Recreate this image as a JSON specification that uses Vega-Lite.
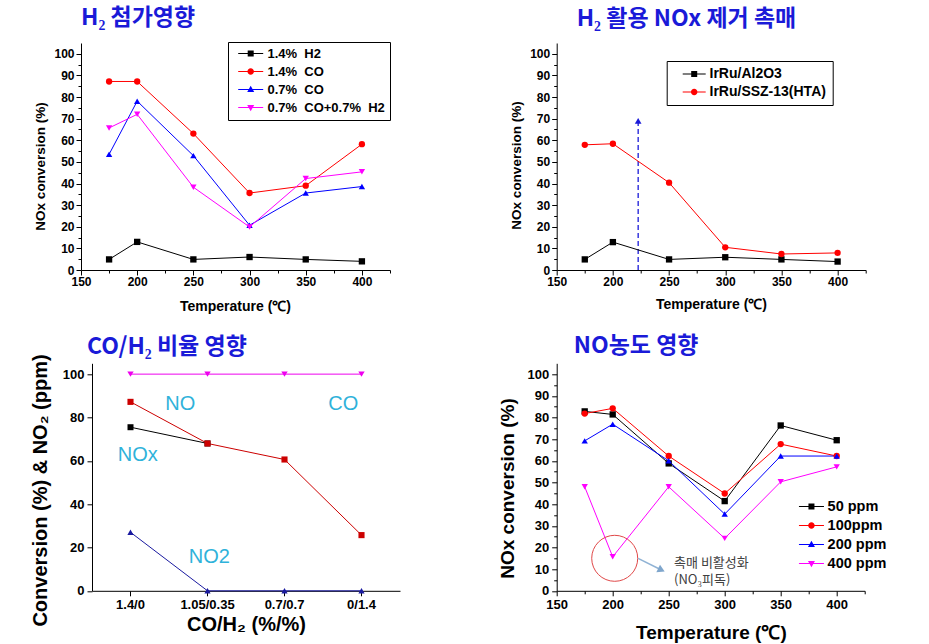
{
  "$schema": "https://vega.github.io/schema/vega-lite/v6.json",
  "autosize": {"type": "none"},
  "padding": {"left": 81, "top": 43, "right": 848, "bottom": 601},
  "background": "white",
  "bounds": "flush",
  "spacing": 475.7,
  "resolve": {"scale": {"x": "independent", "y": "independent", "color": "independent", "shape": "independent", "size": "independent"}, "legend": {"color": "independent", "shape": "independent"}},
  "config": {
    "view": {"stroke": null},
    "font": "Liberation Sans",
    "point": {"opacity": 1},
    "line": {"strokeWidth": 1},
    "axis": {"domainColor": "black", "tickColor": "black", "labelColor": "black", "titleColor": "black", "labelFont": "Liberation Sans", "labelFontWeight": "bold", "titleFont": "Liberation Sans", "titleFontWeight": "bold", "grid": false, "domainWidth": 1, "tickWidth": 1, "labelOverlap": false, "labelFlush": false},
    "title": {"font": "Noto Sans CJK KR", "fontWeight": "bold", "color": "#1a1ad8", "fontSize": 23, "anchor": "start", "frame": "group", "baseline": "alphabetic"},
    "legend": {"labelFont": "Liberation Sans", "labelFontWeight": "bold", "labelColor": "black", "symbolSize": 100, "symbolOpacity": 1, "symbolStrokeWidth": 0}
  },
  "datasets": {
    "p1": [
      {"T": 175, "v": 4.9, "s": "1.4%\u00a0 H2"}, {"T": 200, "v": 13, "s": "1.4%\u00a0 H2"}, {"T": 250, "v": 4.9, "s": "1.4%\u00a0 H2"}, {"T": 300, "v": 6, "s": "1.4%\u00a0 H2"}, {"T": 350, "v": 4.9, "s": "1.4%\u00a0 H2"}, {"T": 400, "v": 4, "s": "1.4%\u00a0 H2"},
      {"T": 175, "v": 87.2, "s": "1.4%\u00a0 CO"}, {"T": 200, "v": 87.2, "s": "1.4%\u00a0 CO"}, {"T": 250, "v": 63.1, "s": "1.4%\u00a0 CO"}, {"T": 300, "v": 35.6, "s": "1.4%\u00a0 CO"}, {"T": 350, "v": 39, "s": "1.4%\u00a0 CO"}, {"T": 400, "v": 58.2, "s": "1.4%\u00a0 CO"},
      {"T": 175, "v": 53.5, "s": "0.7%\u00a0 CO"}, {"T": 200, "v": 78.1, "s": "0.7%\u00a0 CO"}, {"T": 250, "v": 52.9, "s": "0.7%\u00a0 CO"}, {"T": 300, "v": 20.7, "s": "0.7%\u00a0 CO"}, {"T": 350, "v": 35.6, "s": "0.7%\u00a0 CO"}, {"T": 400, "v": 38.6, "s": "0.7%\u00a0 CO"},
      {"T": 175, "v": 65.7, "s": "0.7%\u00a0 CO+0.7%\u00a0 H2"}, {"T": 200, "v": 72, "s": "0.7%\u00a0 CO+0.7%\u00a0 H2"}, {"T": 250, "v": 38.3, "s": "0.7%\u00a0 CO+0.7%\u00a0 H2"}, {"T": 300, "v": 19.9, "s": "0.7%\u00a0 CO+0.7%\u00a0 H2"}, {"T": 350, "v": 42.3, "s": "0.7%\u00a0 CO+0.7%\u00a0 H2"}, {"T": 400, "v": 45.4, "s": "0.7%\u00a0 CO+0.7%\u00a0 H2"}
    ],
    "p2": [
      {"T": 175, "v": 4.9, "c": "IrRu/Al2O3"}, {"T": 200, "v": 12.9, "c": "IrRu/Al2O3"}, {"T": 250, "v": 4.9, "c": "IrRu/Al2O3"}, {"T": 300, "v": 5.9, "c": "IrRu/Al2O3"}, {"T": 350, "v": 4.9, "c": "IrRu/Al2O3"}, {"T": 400, "v": 3.9, "c": "IrRu/Al2O3"},
      {"T": 175, "v": 57.9, "c": "IrRu/SSZ-13(HTA)"}, {"T": 200, "v": 58.4, "c": "IrRu/SSZ-13(HTA)"}, {"T": 250, "v": 40.4, "c": "IrRu/SSZ-13(HTA)"}, {"T": 300, "v": 10.5, "c": "IrRu/SSZ-13(HTA)"}, {"T": 350, "v": 7.4, "c": "IrRu/SSZ-13(HTA)"}, {"T": 400, "v": 7.9, "c": "IrRu/SSZ-13(HTA)"}
    ],
    "p2arrow": [{"T": 222.5, "y0": 0, "y1": 69}],
    "p3": [
      {"r": "1.4/0", "v": 75.5, "g": "NOx"}, {"r": "1.05/0.35", "v": 68, "g": "NOx"},
      {"r": "1.4/0", "v": 87.2, "g": "NO"}, {"r": "1.05/0.35", "v": 68, "g": "NO"}, {"r": "0.7/0.7", "v": 60.6, "g": "NO"}, {"r": "0/1.4", "v": 25.7, "g": "NO"},
      {"r": "1.4/0", "v": 27, "g": "NO2"}, {"r": "1.05/0.35", "v": 0, "g": "NO2"}, {"r": "0.7/0.7", "v": 0, "g": "NO2"}, {"r": "0/1.4", "v": 0, "g": "NO2"},
      {"r": "1.4/0", "v": 100, "g": "CO"}, {"r": "1.05/0.35", "v": 100, "g": "CO"}, {"r": "0.7/0.7", "v": 100, "g": "CO"}, {"r": "0/1.4", "v": 100, "g": "CO"}
    ],
    "p3lab": [
      {"t": "NO", "xi": 0.647, "y": 86.3},
      {"t": "CO", "xi": 2.764, "y": 86.3},
      {"t": "NOx", "xi": 0.095, "y": 62.7},
      {"t": "NO2", "xi": 1.023, "y": 15.6}
    ],
    "p4": [
      {"T": 175, "v": 82.8, "n": "50 ppm"}, {"T": 200, "v": 81.4, "n": "50 ppm"}, {"T": 250, "v": 58.8, "n": "50 ppm"}, {"T": 300, "v": 41.4, "n": "50 ppm"}, {"T": 350, "v": 76.3, "n": "50 ppm"}, {"T": 400, "v": 69.5, "n": "50 ppm"},
      {"T": 175, "v": 81.8, "n": "100ppm"}, {"T": 200, "v": 84.2, "n": "100ppm"}, {"T": 250, "v": 62.2, "n": "100ppm"}, {"T": 300, "v": 44.9, "n": "100ppm"}, {"T": 350, "v": 67.7, "n": "100ppm"}, {"T": 400, "v": 62.2, "n": "100ppm"},
      {"T": 175, "v": 69.2, "n": "200 ppm"}, {"T": 200, "v": 76.9, "n": "200 ppm"}, {"T": 250, "v": 60, "n": "200 ppm"}, {"T": 300, "v": 35.4, "n": "200 ppm"}, {"T": 350, "v": 62.2, "n": "200 ppm"}, {"T": 400, "v": 62.2, "n": "200 ppm"},
      {"T": 175, "v": 48, "n": "400 ppm"}, {"T": 200, "v": 15.7, "n": "400 ppm"}, {"T": 250, "v": 48, "n": "400 ppm"}, {"T": 300, "v": 24.2, "n": "400 ppm"}, {"T": 350, "v": 50.3, "n": "400 ppm"}, {"T": 400, "v": 57.2, "n": "400 ppm"}
    ],
    "p4circle": [{"T": 201.8, "v": 15}],
    "p4arrow": [{"x1": 222.7, "y1": 15, "x2": 243.5, "y2": 9.6}],
    "p4text": [
      {"T": 254.8, "v": 12.7, "t": "촉매 비활성화"},
      {"T": 254.8, "v": 4.9, "t": "(NO₃피독)"}
    ]
  },
  "hconcat": [
    {
      "bounds": "flush",
      "spacing": 93.3,
      "resolve": {"scale": {"x": "independent", "y": "independent", "color": "independent", "shape": "independent", "size": "independent"}, "legend": {"color": "independent", "shape": "independent"}},
      "vconcat": [
        {
          "width": 309, "height": 227,
          "title": {"text": "H₂ 첨가영향", "dx": 0, "offset": 12},
          "data": {"name": "p1"},
          "resolve": {"scale": {"color": "independent", "shape": "independent"}, "legend": {"color": "independent", "shape": "independent"}},
          "encoding": {
            "x": {"field": "T", "type": "quantitative", "scale": {"domain": [150, 425], "nice": false, "zero": false},
              "axis": {"values": [150, 175, 200, 225, 250, 275, 300, 325, 350, 375, 400, 425], "labelExpr": "datum.value % 50 === 0 ? datum.label : ''", "tickSize": {"condition": {"test": "datum.value % 50 === 0", "value": 5}, "value": 3}, "labelFontSize": 12, "labelPadding": 1, "title": "Temperature (℃)", "titleFontSize": 14, "titleX": 154, "titleY": 36, "titleBaseline": "middle", "titleAlign": "center"}},
            "y": {"field": "v", "type": "quantitative", "scale": {"domain": [0, 105], "nice": false},
              "axis": {"values": [0, 5, 10, 15, 20, 25, 30, 35, 40, 45, 50, 55, 60, 65, 70, 75, 80, 85, 90, 95, 100], "labelExpr": "datum.value % 10 === 0 ? datum.label : ''", "tickSize": {"condition": {"test": "datum.value % 10 === 0", "value": 5}, "value": 3}, "labelFontSize": 12, "labelPadding": 2, "title": "NOx conversion (%)", "titleFontSize": 13.5, "titleX": -40.3, "titleY": 123, "titleBaseline": "middle", "titleAlign": "center", "titleAngle": -90}}
          },
          "layer": [
            {"mark": {"type": "line", "strokeWidth": 1},
             "encoding": {"color": {"field": "s", "type": "nominal", "scale": {"domain": ["1.4%\u00a0 H2", "1.4%\u00a0 CO", "0.7%\u00a0 CO", "0.7%\u00a0 CO+0.7%\u00a0 H2"], "range": ["#000000", "#ff0000", "#0000ff", "#ff00ff"]}, "legend": null}}},
            {"mark": {"type": "point", "filled": true, "opacity": 1, "size": 40},
             "encoding": {
               "shape": {"field": "s", "type": "nominal", "scale": {"domain": ["1.4%\u00a0 H2", "1.4%\u00a0 CO", "0.7%\u00a0 CO", "0.7%\u00a0 CO+0.7%\u00a0 H2"], "range": ["square", "circle", "triangle-up", "triangle-down"]}, "legend": null},
               "color": {"field": "s", "type": "nominal", "scale": {"domain": ["1.4%\u00a0 H2", "1.4%\u00a0 CO", "0.7%\u00a0 CO", "0.7%\u00a0 CO+0.7%\u00a0 H2"], "range": ["#000000", "#ff0000", "#0000ff", "#ff00ff"]}, "legend": null}}},
            {"data": {"values": []}, "mark": {"type": "point", "filled": true, "opacity": 1},
             "encoding": {
               "color": {"field": "s", "type": "nominal", "scale": {"domain": ["1.4%\u00a0 H2", "1.4%\u00a0 CO", "0.7%\u00a0 CO", "0.7%\u00a0 CO+0.7%\u00a0 H2"], "range": ["#000000", "#ff0000", "#0000ff", "#ff00ff"]},
                 "legend": {"orient": "none", "legendX": 147, "legendY": -1, "title": null, "labelFontSize": 13, "strokeColor": "black", "fillColor": "white", "padding": 5, "rowPadding": 4, "symbolOffset": 11.2, "labelOffset": 10.2, "symbolSize": 100}},
               "shape": {"field": "s", "type": "nominal", "scale": {"domain": ["1.4%\u00a0 H2", "1.4%\u00a0 CO", "0.7%\u00a0 CO", "0.7%\u00a0 CO+0.7%\u00a0 H2"], "range": ["M-2.5,-0.1H2.5V0.1H-2.5ZM-0.6,-0.6H0.6V0.6H-0.6Z", "M-2.5,-0.1H2.5V0.1H-2.5ZM0.65,0A0.65,0.65,0,1,1,-0.65,0A0.65,0.65,0,1,1,0.65,0Z", "M-2.5,-0.1H2.5V0.1H-2.5ZM0,-0.75L0.7,0.5L-0.7,0.5Z", "M-2.5,-0.1H2.5V0.1H-2.5ZM0,0.75L-0.7,-0.5L0.7,-0.5Z"]},
                 "legend": {"orient": "none", "legendX": 147, "legendY": -1, "title": null, "labelFontSize": 13, "strokeColor": "black", "fillColor": "white", "padding": 5, "rowPadding": 4, "symbolOffset": 11.2, "labelOffset": 10.2, "symbolSize": 100}}}}
          ]
        },
        {
          "bounds": "flush",
          "spacing": 0,
          "resolve": {"scale": {"x": "independent", "y": "independent", "color": "independent", "shape": "independent", "size": "independent"}},
          "hconcat": [
            {"width": 10.7, "height": 10, "data": {"values": [{"k": 1}]}, "mark": {"type": "point", "opacity": 0}, "encoding": {}},
            {
              "width": 308, "height": 227.5,
              "title": {"text": "CO/H₂ 비율 영향", "dx": -5, "offset": -5},
              "resolve": {"scale": {"x": "independent"}, "axis": {"x": "independent"}},
              "layer": [
                {
                  "data": {"name": "p3"},
                  "encoding": {
                    "x": {"field": "r", "type": "nominal", "bandPosition": 0.5, "sort": null, "scale": {"type": "band", "domain": ["1.4/0", "1.05/0.35", "0.7/0.7", "0/1.4"], "paddingInner": 0, "paddingOuter": 0},
                      "axis": {"labelFontSize": 13, "labelAngle": 0, "tickSize": 5, "labelPadding": 3, "title": "CO/H₂ (%/%)", "titleFontSize": 20, "titleX": 154, "titleY": 34, "titleBaseline": "middle", "titleAlign": "center"}},
                    "y": {"field": "v", "type": "quantitative", "scale": {"domain": [0, 105], "nice": false},
                      "axis": {"values": [0, 5, 10, 15, 20, 25, 30, 35, 40, 45, 50, 55, 60, 65, 70, 75, 80, 85, 90, 95, 100], "labelExpr": "datum.value % 10 === 0 ? datum.label : ''", "tickSize": {"condition": {"test": "datum.value % 10 === 0", "value": 5}, "value": 3}, "labelFontSize": 13, "labelPadding": 3, "title": "Conversion (%) & NO₂ (ppm)", "titleFontSize": 20, "titleX": -51.7, "titleY": 126.7, "titleBaseline": "middle", "titleAlign": "center", "titleAngle": -90}}
                  },
                  "layer": [
                    {"mark": {"type": "line", "strokeWidth": 1},
                     "encoding": {"color": {"field": "g", "type": "nominal", "scale": {"domain": ["NOx", "NO", "NO2", "CO"], "range": ["#000000", "#cc0000", "#1a1aa0", "#ee00ee"]}, "legend": null}}},
                    {"mark": {"type": "point", "filled": true, "opacity": 1},
                     "encoding": {
                       "color": {"field": "g", "type": "nominal", "legend": null},
                       "shape": {"field": "g", "type": "nominal", "scale": {"domain": ["NOx", "NO", "NO2", "CO"], "range": ["square", "square", "triangle-up", "triangle-down"]}, "legend": null},
                       "size": {"field": "g", "type": "nominal", "scale": {"domain": ["NOx", "NO", "NO2", "CO"], "range": [36, 40, 20, 36]}, "legend": null}}}
                  ]
                },
                {
                  "data": {"name": "p3lab"},
                  "mark": {"type": "text", "font": "Liberation Sans", "fontSize": 20, "color": "#2fb2da", "align": "center", "baseline": "middle"},
                  "encoding": {
                    "x": {"field": "xi", "type": "quantitative", "scale": {"domain": [-0.5, 3.5], "nice": false, "zero": false}, "axis": null},
                    "y": {"field": "y", "type": "quantitative"},
                    "text": {"field": "t"}
                  }
                }
              ]
            }
          ]
        }
      ]
    },
    {
      "bounds": "flush",
      "spacing": 93.3,
      "resolve": {"scale": {"x": "independent", "y": "independent", "color": "independent", "shape": "independent", "size": "independent"}, "legend": {"color": "independent", "shape": "independent"}},
      "vconcat": [
        {
          "width": 309, "height": 227,
          "title": {"text": "H₂ 활용 NOx 제거 촉매", "dx": 20, "offset": 12},
          "resolve": {"scale": {"color": "independent", "shape": "independent"}, "legend": {"color": "independent", "shape": "independent"}},
          "encoding": {
            "x": {"field": "T", "type": "quantitative", "scale": {"domain": [150, 425], "nice": false, "zero": false},
              "axis": {"values": [150, 175, 200, 225, 250, 275, 300, 325, 350, 375, 400, 425], "labelExpr": "datum.value % 50 === 0 ? datum.label : ''", "tickSize": {"condition": {"test": "datum.value % 50 === 0", "value": 5}, "value": 3}, "labelFontSize": 12, "labelPadding": 1, "title": "Temperature (℃)", "titleFontSize": 14, "titleX": 154.3, "titleY": 34, "titleBaseline": "middle", "titleAlign": "center"}},
            "y": {"field": "v", "type": "quantitative", "scale": {"domain": [0, 105], "nice": false},
              "axis": {"values": [0, 5, 10, 15, 20, 25, 30, 35, 40, 45, 50, 55, 60, 65, 70, 75, 80, 85, 90, 95, 100], "labelExpr": "datum.value % 10 === 0 ? datum.label : ''", "tickSize": {"condition": {"test": "datum.value % 10 === 0", "value": 5}, "value": 3}, "labelFontSize": 12, "labelPadding": 2, "title": "NOx conversion (%)", "titleFontSize": 13.5, "titleX": -40, "titleY": 122, "titleBaseline": "middle", "titleAlign": "center", "titleAngle": -90}}
          },
          "layer": [
            {"data": {"name": "p2arrow"}, "mark": {"type": "rule", "color": "#1a1ad8", "strokeWidth": 1.3, "strokeDash": [5, 3]},
             "encoding": {"x": {"field": "T", "type": "quantitative"}, "y": {"field": "y0", "type": "quantitative"}, "y2": {"field": "y1"}}},
            {"data": {"name": "p2arrow"}, "mark": {"type": "point", "shape": "triangle-up", "filled": true, "color": "#1a1ad8", "size": 45, "opacity": 1},
             "encoding": {"x": {"field": "T", "type": "quantitative"}, "y": {"field": "y1", "type": "quantitative"}}},
            {"data": {"name": "p2"}, "mark": {"type": "line", "strokeWidth": 1},
             "encoding": {"color": {"field": "c", "type": "nominal", "scale": {"domain": ["IrRu/Al2O3", "IrRu/SSZ-13(HTA)"], "range": ["#000000", "#ff0000"]}, "legend": null}}},
            {"data": {"name": "p2"}, "mark": {"type": "point", "filled": true, "opacity": 1, "size": 40},
             "encoding": {
               "shape": {"field": "c", "type": "nominal", "scale": {"domain": ["IrRu/Al2O3", "IrRu/SSZ-13(HTA)"], "range": ["square", "circle"]}, "legend": null},
               "color": {"field": "c", "type": "nominal", "scale": {"domain": ["IrRu/Al2O3", "IrRu/SSZ-13(HTA)"], "range": ["#000000", "#ff0000"]}, "legend": null}}},
            {"data": {"values": []}, "mark": {"type": "point", "filled": true, "opacity": 1},
             "encoding": {
               "x": {"field": "T", "type": "quantitative"}, "y": {"field": "v", "type": "quantitative"},
               "color": {"field": "c", "type": "nominal", "scale": {"domain": ["IrRu/Al2O3", "IrRu/SSZ-13(HTA)"], "range": ["#000000", "#ff0000"]},
                 "legend": {"orient": "none", "legendX": 110, "legendY": 18, "title": null, "labelFontSize": 14, "strokeColor": "black", "fillColor": "white", "padding": 6, "rowPadding": 4, "symbolOffset": 14.5, "labelOffset": 8.3, "symbolSize": 100}},
               "shape": {"field": "c", "type": "nominal", "scale": {"domain": ["IrRu/Al2O3", "IrRu/SSZ-13(HTA)"], "range": ["M-2.3,-0.1H2.3V0.1H-2.3ZM-0.6,-0.6H0.6V0.6H-0.6Z", "M-2.3,-0.1H2.3V0.1H-2.3ZM0.65,0A0.65,0.65,0,1,1,-0.65,0A0.65,0.65,0,1,1,0.65,0Z"]},
                 "legend": {"orient": "none", "legendX": 110, "legendY": 18, "title": null, "labelFontSize": 14, "strokeColor": "black", "fillColor": "white", "padding": 6, "rowPadding": 4, "symbolOffset": 14.5, "labelOffset": 8.3, "symbolSize": 100}}}}
          ]
        },
        {
          "width": 308, "height": 227.5,
          "title": {"text": "NO농도 영향", "dx": 17, "offset": 5},
          "resolve": {"scale": {"color": "independent", "shape": "independent"}, "legend": {"color": "independent", "shape": "independent"}},
          "encoding": {
            "x": {"field": "T", "type": "quantitative", "scale": {"domain": [150, 425], "nice": false, "zero": false},
              "axis": {"values": [150, 175, 200, 225, 250, 275, 300, 325, 350, 375, 400, 425], "labelExpr": "datum.value % 50 === 0 ? datum.label : ''", "tickSize": {"condition": {"test": "datum.value % 50 === 0", "value": 5}, "value": 3}, "labelFontSize": 13, "labelPadding": 3, "title": "Temperature (℃)", "titleFontSize": 19, "titleX": 154.2, "titleY": 41.9, "titleBaseline": "middle", "titleAlign": "center"}},
            "y": {"field": "v", "type": "quantitative", "scale": {"domain": [0, 105], "nice": false},
              "axis": {"values": [0, 5, 10, 15, 20, 25, 30, 35, 40, 45, 50, 55, 60, 65, 70, 75, 80, 85, 90, 95, 100], "labelExpr": "datum.value % 10 === 0 ? datum.label : ''", "tickSize": {"condition": {"test": "datum.value % 10 === 0", "value": 5}, "value": 3}, "labelFontSize": 13, "labelPadding": 3, "title": "NOx conversion (%)", "titleFontSize": 19, "titleX": -49, "titleY": 124.7, "titleBaseline": "middle", "titleAlign": "center", "titleAngle": -90}}
          },
          "layer": [
            {"data": {"name": "p4"}, "mark": {"type": "line", "strokeWidth": 1},
             "encoding": {"color": {"field": "n", "type": "nominal", "scale": {"domain": ["50 ppm", "100ppm", "200 ppm", "400 ppm"], "range": ["#000000", "#ff0000", "#0000ff", "#ff00ff"]}, "legend": null}}},
            {"data": {"name": "p4"}, "mark": {"type": "point", "filled": true, "opacity": 1, "size": 40},
             "encoding": {
               "shape": {"field": "n", "type": "nominal", "scale": {"domain": ["50 ppm", "100ppm", "200 ppm", "400 ppm"], "range": ["square", "circle", "triangle-up", "triangle-down"]}, "legend": null},
               "color": {"field": "n", "type": "nominal", "scale": {"domain": ["50 ppm", "100ppm", "200 ppm", "400 ppm"], "range": ["#000000", "#ff0000", "#0000ff", "#ff00ff"]}, "legend": null}}},
            {"data": {"values": []}, "mark": {"type": "point", "filled": true, "opacity": 1},
             "encoding": {
               "x": {"field": "T", "type": "quantitative"}, "y": {"field": "v", "type": "quantitative"},
               "color": {"field": "n", "type": "nominal", "scale": {"domain": ["50 ppm", "100ppm", "200 ppm", "400 ppm"], "range": ["#000000", "#ff0000", "#0000ff", "#ff00ff"]},
                 "legend": {"orient": "none", "legendX": 240, "legendY": 136, "title": null, "labelFontSize": 14.5, "padding": 0, "rowPadding": 4, "symbolOffset": 7.5, "labelOffset": 8.9, "symbolSize": 100}},
               "shape": {"field": "n", "type": "nominal", "scale": {"domain": ["50 ppm", "100ppm", "200 ppm", "400 ppm"], "range": ["M-2.5,-0.1H2.5V0.1H-2.5ZM-0.6,-0.6H0.6V0.6H-0.6Z", "M-2.5,-0.1H2.5V0.1H-2.5ZM0.65,0A0.65,0.65,0,1,1,-0.65,0A0.65,0.65,0,1,1,0.65,0Z", "M-2.5,-0.1H2.5V0.1H-2.5ZM0,-0.75L0.7,0.5L-0.7,0.5Z", "M-2.5,-0.1H2.5V0.1H-2.5ZM0,0.75L-0.7,-0.5L0.7,-0.5Z"]},
                 "legend": {"orient": "none", "legendX": 240, "legendY": 136, "title": null, "labelFontSize": 14.5, "padding": 0, "rowPadding": 4, "symbolOffset": 7.5, "labelOffset": 8.9, "symbolSize": 100}}}},
            {"data": {"name": "p4circle"}, "mark": {"type": "point", "shape": "circle", "filled": false, "stroke": "#e04848", "strokeWidth": 1, "size": 2116, "opacity": 1},
             "encoding": {"x": {"field": "T", "type": "quantitative"}, "y": {"field": "v", "type": "quantitative"}}},
            {"data": {"name": "p4arrow"}, "mark": {"type": "rule", "color": "#8fb2d4", "strokeWidth": 1.5},
             "encoding": {"x": {"field": "x1", "type": "quantitative"}, "y": {"field": "y1", "type": "quantitative"}, "x2": {"field": "x2"}, "y2": {"field": "y2"}}},
            {"data": {"name": "p4arrow"}, "mark": {"type": "point", "shape": "triangle-right", "angle": 26, "filled": true, "color": "#7fa6cc", "size": 70, "opacity": 1},
             "encoding": {"x": {"field": "x2", "type": "quantitative"}, "y": {"field": "y2", "type": "quantitative"}}},
            {"data": {"name": "p4text"}, "mark": {"type": "text", "font": "Noto Sans CJK KR", "fontSize": 13, "color": "#404040", "align": "left", "baseline": "middle"},
             "encoding": {"x": {"field": "T", "type": "quantitative"}, "y": {"field": "v", "type": "quantitative"}, "text": {"field": "t"}}}
          ]
        }
      ]
    }
  ]
}
